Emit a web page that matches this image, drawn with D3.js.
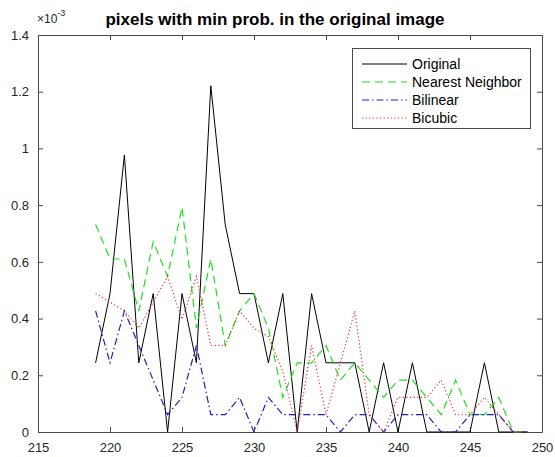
<!DOCTYPE html>
<html lang="en">
<head>
<meta charset="UTF-8">
<title>pixels with min prob.</title>
<style>
  * { margin: 0; padding: 0; }
  body { background: #fff; }
  svg { display: block; font-family: "Liberation Sans", Arial, sans-serif; }
</style>
</head>
<body>
<div id="chart"></div>
<script src="https://cdn.jsdelivr.net/npm/d3@7"></script>
<script>
// x positions (pixel intensity)
var xs = [219,220,221,222,223,224,225,226,227,228,229,230,231,232,233,234,
          235,236,237,238,239,240,241,242,243,244,245,246,247,248,249];

// values in units of 1e-3
var original = [0.244,0.488,0.977,0.244,0.488,0,0.488,0.244,1.221,0.732,0.488,0.488,0.244,0.488,0,0.488,
                0.244,0.244,0.244,0,0.244,0,0.244,0,0,0,0,0.244,0,0,0];
var nearest  = [0.732,0.610,0.610,0.427,0.671,0.549,0.793,0.366,0.610,0.305,0.427,0.488,0.366,0.122,0.244,0.244,
                0.305,0.183,0.244,0.183,0.122,0.183,0.183,0.122,0.061,0.183,0.061,0.061,0.122,0,0];
var bilinear = [0.427,0.244,0.427,0.305,0.183,0.061,0.122,0.305,0.061,0.061,0.122,0,0.122,0.061,0.061,0.061,
                0.061,0,0.061,0.061,0,0.061,0.061,0.061,0,0,0.061,0.061,0.061,0,0];
var bicubic  = [0.488,0.458,0.427,0.366,0.458,0.549,0.397,0.549,0.305,0.305,0.427,0.366,0.336,0.214,0,0.305,
                0.061,0.244,0.427,0.061,0,0.122,0.122,0.122,0.183,0.061,0.061,0.122,0.061,0,0];

var seriesNames = ["Original", "Nearest Neighbor", "Bilinear", "Bicubic"];
var xTicks = [215,220,225,230,235,240,245,250];
var yTicks = [0,0.2,0.4,0.6,0.8,1,1.2,1.4];

var width = 555, height = 457;
var m = { left: 38, right: 542, top: 35, bottom: 432 };

var svg = d3.select('#chart').append('svg').attr('width', width).attr('height', height);

var x = d3.scaleLinear().domain([215, 250]).range([m.left, m.right]);
var y = d3.scaleLinear().domain([0, 1.4]).range([m.bottom, m.top]);

var axisColor = '#4a4a4a';
var tickLen = 5;

// title
svg.append('text')
  .attr('x', 275).attr('y', 25)
  .attr('text-anchor', 'middle')
  .attr('font-size', 17).attr('font-weight', 'bold').attr('fill', '#000')
  .text('pixels with min prob. in the original image');

// exponent label
var ex = svg.append('text').attr('x', 37).attr('y', 23).attr('font-size', 12).attr('fill', '#262626');
ex.append('tspan').text('×10');
ex.append('tspan').attr('dy', -7).attr('font-size', 9).text('-3');

// axes (ticks inward, box on)
var gx = svg.append('g').attr('transform', 'translate(0,' + m.bottom + ')')
  .call(d3.axisBottom(x).tickValues(xTicks).tickSizeInner(-tickLen).tickSizeOuter(0).tickPadding(11));
var gxt = svg.append('g').attr('transform', 'translate(0,' + m.top + ')')
  .call(d3.axisTop(x).tickValues(xTicks).tickSizeInner(-tickLen).tickSizeOuter(0).tickFormat(''));
var gy = svg.append('g').attr('transform', 'translate(' + m.left + ',0)')
  .call(d3.axisLeft(y).tickValues(yTicks).tickSizeInner(-tickLen).tickSizeOuter(0).tickPadding(9)
    .tickFormat(function (d) { return d3.format('~g')(d); }));
var gyr = svg.append('g').attr('transform', 'translate(' + m.right + ',0)')
  .call(d3.axisRight(y).tickValues(yTicks).tickSizeInner(-tickLen).tickSizeOuter(0).tickFormat(''));

[gx, gxt, gy, gyr].forEach(function (g) {
  g.select('.domain').attr('stroke', axisColor);
  g.selectAll('.tick line').attr('stroke', axisColor);
  g.selectAll('.tick text').attr('fill', '#262626').attr('font-size', 13)
    .attr('font-family', '"Liberation Sans", Arial, sans-serif');
});

// lines
var styles = [
  { data: original, color: '#000000', dash: null, w: 1 },
  { data: nearest,  color: '#22dd22', dash: '8,5', w: 1.2 },
  { data: bilinear, color: '#2020b8', dash: '7,3,1.5,3', w: 1.2 },
  { data: bicubic,  color: '#ee2020', dash: '1.2,2.4', w: 1.1 }
];

var line = d3.line()
  .x(function (d) { return x(d[0]); })
  .y(function (d) { return y(d[1]); });

styles.forEach(function (s) {
  svg.append('path')
    .datum(xs.map(function (v, i) { return [v, s.data[i]]; }))
    .attr('d', line)
    .attr('fill', 'none')
    .attr('stroke', s.color)
    .attr('stroke-width', s.w)
    .attr('stroke-dasharray', s.dash);
});

// legend
var lg = svg.append('g');
lg.append('rect').attr('x', 352.5).attr('y', 48.5).attr('width', 178).attr('height', 80)
  .attr('fill', '#fff').attr('stroke', axisColor);
styles.forEach(function (s, i) {
  var ly = 64 + i * 18;
  lg.append('line').attr('x1', 362).attr('x2', 407).attr('y1', ly).attr('y2', ly)
    .attr('stroke', s.color).attr('stroke-width', s.w).attr('stroke-dasharray', s.dash);
  lg.append('text').attr('x', 412).attr('y', ly + 4.5)
    .attr('font-size', 14).attr('fill', '#000').text(seriesNames[i]);
});
</script>
</body>
</html>
